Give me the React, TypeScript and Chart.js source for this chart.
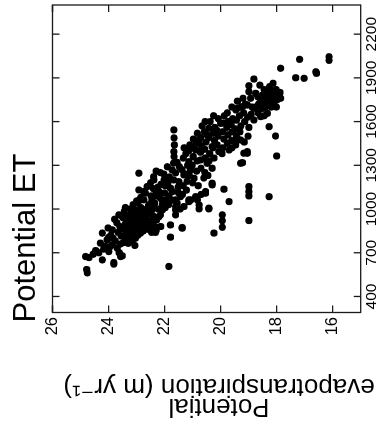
import React, { useEffect, useRef } from "react";
import { Chart, registerables } from "chart.js";

Chart.register(...registerables);

// ---- text & ticks ----
const TITLE = "Potential ET";
const Y_TITLE = ["Potential", "evapotranspiration (m yr\u207B\u00B9)"];
const PET_TICKS = [400, 700, 1000, 1300, 1600, 1900, 2200];
const TEMP_TICKS = [16, 18, 20, 22, 24, 26];
const PET_RANGE = [290, 2400];
const TEMP_RANGE = [15, 26];

// ---- data: [PET, temperature] pairs, grouped by region of the cloud ----
const warmEnd: [number, number][] = [
  [562, 24.76], [585, 24.78], [674, 24.82], [667, 24.7], [715, 24.46], [651, 24.22], [835, 24.22],
  [766, 24.29], [789, 24.05], [754, 23.87], [732, 23.69], [708, 23.99], [633, 23.81], [622, 23.81],
  [679, 23.51], [674, 23.57], [857, 23.87], [960, 23.63], [745, 24.12], [700, 24.35], [805, 24.0],
  [690, 24.55], [725, 24.18], [820, 23.92], [780, 23.76], [740, 23.96], [800, 23.84], [870, 24.02],
  [905, 23.7], [930, 23.78], [880, 23.6], [840, 23.66], [760, 23.58], [815, 23.55], [700, 23.62],
];

const denseCore: [number, number][] = [
  [770, 23.47], [815, 23.43], [860, 23.45], [895, 23.41], [940, 23.48], [985, 23.44],
  [790, 23.36], [830, 23.33], [880, 23.37], [915, 23.34], [955, 23.36],
  [810, 23.26], [845, 23.23], [870, 23.27], [905, 23.24], [935, 23.25], [1000, 23.22],
  [780, 23.16], [825, 23.14], [860, 23.17], [890, 23.13], [925, 23.15], [970, 23.18], [1030, 23.12],
  [750, 23.06], [800, 23.04], [845, 23.07], [880, 23.03], [910, 23.06], [950, 23.05], [990, 23.02],
  [820, 22.96], [870, 22.94], [900, 22.97], [940, 22.93], [975, 22.96], [1040, 22.95],
  [835, 22.86], [880, 22.84], [925, 22.87], [960, 22.83], [1010, 22.85],
  [850, 22.76], [895, 22.74], [930, 22.77], [985, 22.73],
  [870, 22.66], [905, 22.64], [950, 22.67], [1000, 22.63], [1109, 22.68],
  [860, 22.56], [890, 22.54], [920, 22.57], [970, 22.53], [1030, 22.55],
  [840, 22.46], [870, 22.44], [905, 22.47], [1000, 22.43], [1060, 22.45],
  [845, 22.36], [880, 22.34], [930, 22.37], [1040, 22.35], [1090, 22.33],
];

const midBand: [number, number][] = [
  [1246, 22.92], [1131, 22.92], [1063, 22.9], [1221, 22.39], [1180, 22.5], [1154, 22.62], [1120, 22.2],
  [1063, 22.74], [1040, 22.38], [1063, 21.96], [1085, 21.43], [1200, 22.02], [1200, 22.38], [1143, 21.79],
  [1188, 21.49], [1234, 21.31], [1248, 21.61], [1268, 21.73], [994, 22.08], [1030, 22.08], [1063, 22.1],
  [1017, 21.61], [1063, 21.61], [1040, 21.55], [880, 22.14], [948, 22.2], [891, 21.79], [840, 22.32],
  [857, 22.3], [926, 22.28], [960, 22.15], [1000, 22.22], [1080, 22.18], [1150, 22.24], [1010, 21.98],
  [1110, 22.0], [1160, 21.98], [1240, 22.03], [1030, 21.86], [1090, 21.84], [1180, 21.88], [1220, 21.83],
  [1060, 21.7], [1120, 21.72], [1200, 21.68], [1110, 21.5], [1150, 21.52], [1290, 21.47], [1100, 21.36],
  [1160, 21.34], [1270, 21.38], [1350, 21.33], [1130, 21.22], [1190, 21.2], [1300, 21.18], [1380, 21.24],
  [1017, 21.31], [994, 21.61], [1090, 22.48], [1260, 22.3], [1130, 22.33],
];

const column2166: [number, number][] = [
  [1543, 21.67], [1488, 21.66], [1440, 21.65], [1394, 21.67], [1360, 21.66], [1315, 21.68],
];

const band20to21: [number, number][] = [
  [1554, 20.42], [1588, 20.0], [1462, 20.77], [1508, 20.48], [1405, 20.89], [1428, 20.3], [1394, 20.06],
  [1405, 19.7], [1337, 20.71], [1314, 20.48], [1280, 20.3], [1120, 20.54], [1177, 20.3], [1028, 20.77],
  [1006, 20.42], [1063, 21.07], [1109, 20.54], [1085, 20.89], [1051, 21.13], [1166, 20.3], [1300, 21.02],
  [1360, 20.98], [1420, 21.03], [1480, 20.97], [1260, 20.86], [1330, 20.84], [1450, 20.87], [1520, 20.83],
  [1280, 20.7], [1390, 20.72], [1430, 20.68], [1490, 20.71], [1570, 20.66], [1250, 20.56], [1350, 20.55],
  [1410, 20.57], [1460, 20.52], [1530, 20.58], [1330, 20.41], [1380, 20.39], [1490, 20.42], [1600, 20.37],
  [1350, 20.24], [1420, 20.27], [1470, 20.22], [1520, 20.26], [1560, 20.21], [1440, 20.12], [1500, 20.09],
  [1540, 20.14], [1620, 20.08], [1230, 21.12], [1270, 21.08], [1400, 21.14], [1440, 21.1], [1213, 20.6],
  [1230, 20.45], [1211, 20.95], [1268, 21.07], [1325, 21.13],
];

const band19to20: [number, number][] = [
  [1474, 19.29], [1314, 19.29], [1394, 19.05], [1420, 19.92], [1480, 19.88], [1530, 19.93], [1590, 19.9],
  [1640, 19.87], [1450, 19.76], [1510, 19.74], [1560, 19.78], [1600, 19.73], [1660, 19.76], [1470, 19.61],
  [1530, 19.58], [1580, 19.62], [1620, 19.57], [1440, 19.46], [1500, 19.44], [1550, 19.48], [1610, 19.43],
  [1680, 19.46], [1530, 19.31], [1570, 19.28], [1640, 19.33], [1700, 19.27], [1460, 19.16], [1600, 19.14],
  [1660, 19.18], [1720, 19.12], [1500, 19.02], [1560, 18.99], [1630, 19.04], [1702, 19.22], [1691, 19.4],
  [1714, 19.05], [1383, 19.17],
];

const coolBand: [number, number][] = [
  [1892, 18.81], [1863, 18.13], [1846, 18.99], [1805, 18.99], [1794, 18.75], [1794, 17.98], [1760, 17.86],
  [1748, 18.21], [1737, 18.57], [1657, 18.33], [1691, 18.81], [1634, 18.57], [1611, 18.81], [1565, 18.27],
  [1690, 18.51], [1740, 18.49], [1780, 18.52], [1700, 18.4], [1760, 18.42], [1800, 18.38], [1720, 18.29],
  [1775, 18.31], [1700, 18.19], [1790, 18.22], [1810, 18.18], [1730, 18.09], [1770, 18.11], [1700, 18.01],
  [1750, 17.99], [1820, 18.02], [1780, 17.91], [1800, 17.88], [1660, 18.66], [1720, 18.64], [1770, 18.67],
  [1650, 18.91], [1700, 18.88], [1760, 18.93], [1501, 18.04],
];

const coolest: [number, number][] = [
  [2027, 17.18], [2020, 16.13], [2045, 16.13], [1966, 17.86], [1931, 16.58], [1942, 16.6],
  [1901, 17.32], [1897, 17.02],
];

const belowBand: [number, number][] = [
  [1383, 19.05], [1318, 19.22], [1364, 18.0], [1154, 18.99], [1120, 18.99], [1090, 18.99], [1085, 18.27],
  [921, 18.99], [1136, 19.88], [1051, 19.7], [960, 19.94], [920, 19.94], [875, 19.94], [835, 20.24],
  [869, 21.37], [807, 21.79], [606, 21.85], [960, 21.61], [1001, 20.42], [1001, 20.77], [1063, 20.83],
  [1063, 21.13], [1113, 20.54], [873, 21.37],
];

const bandFill: [number, number][] = [
  [950, 23.52], [1010, 23.4], [765, 23.3], [1055, 23.0], [1080, 22.85], [1120, 22.75], [1020, 22.58],
  [955, 22.42], [1140, 22.4], [1170, 22.12], [1250, 22.15], [1050, 21.92], [1290, 21.9], [1320, 21.55],
  [1000, 21.45], [1240, 21.25], [1420, 21.3], [1180, 21.0], [1100, 20.7], [1160, 20.8], [1600, 20.55],
  [1640, 20.25], [1380, 19.95], [1700, 19.6], [1740, 19.4], [1420, 19.6], [1760, 19.2], [1480, 19.4],
  [1850, 18.6], [1820, 18.45], [1640, 18.45], [1840, 18.25], [1700, 18.75],
];

const FONT = '"Liberation Sans", Arial, Helvetica, "DejaVu Sans", sans-serif';

export default function App() {
  const ref = useRef<HTMLCanvasElement | null>(null);

  useEffect(() => {
    if (!ref.current) return;
    const all = [
      ...warmEnd, ...denseCore, ...midBand, ...column2166, ...band20to21,
      ...band19to20, ...coolBand, ...coolest, ...belowBand, ...bandFill,
    ];
    const points = all.map(([pet, t]) => ({ x: pet, y: t }));

    const frame = {
      id: "frame",
      afterDraw(chart: any) {
        const { ctx, chartArea: a, scales } = chart;
        const xs = scales.x;
        const ys = scales.y;
        const tick = 7;
        ctx.save();
        ctx.strokeStyle = "#1a1a1a";
        ctx.lineWidth = 1.3;
        ctx.strokeRect(a.left, a.top, a.right - a.left, a.bottom - a.top);
        ctx.beginPath();
        PET_TICKS.forEach((v) => {
          const p = xs.getPixelForValue(v);
          ctx.moveTo(p, a.bottom);
          ctx.lineTo(p, a.bottom - tick);
          ctx.moveTo(p, a.top);
          ctx.lineTo(p, a.top + tick);
        });
        TEMP_TICKS.forEach((v) => {
          const p = ys.getPixelForValue(v);
          ctx.moveTo(a.left, p);
          ctx.lineTo(a.left + tick, p);
          ctx.moveTo(a.right, p);
          ctx.lineTo(a.right - tick, p);
        });
        ctx.stroke();

        ctx.fillStyle = "#000";
        ctx.font = `31px ${FONT}`;
        ctx.textAlign = "left";
        ctx.textBaseline = "alphabetic";
        ctx.fillText(TITLE, a.left - 10, 35);

        ctx.font = `26px ${FONT}`;
        ctx.textAlign = "center";
        const cy = 219;
        const baselines = [27, 47];
        Y_TITLE.forEach((line, i) => {
          ctx.save();
          ctx.translate(baselines[i], cy);
          ctx.rotate(-Math.PI / 2);
          ctx.fillText(line, 0, 0);
          ctx.restore();
        });
        ctx.restore();
      },
    };

    const chart = new Chart(ref.current, {
      type: "scatter",
      data: {
        datasets: [
          {
            data: points,
            backgroundColor: "#000",
            borderColor: "#000",
            borderWidth: 0,
            pointRadius: 3.6,
            pointHoverRadius: 3.6,
          },
        ],
      },
      options: {
        animation: false,
        responsive: false,
        devicePixelRatio: 1,
        events: [],
        layout: { padding: { left: 0, right: 5, top: 52.5, bottom: 0 } },
        plugins: {
          legend: { display: false },
          tooltip: { enabled: false },
          title: { display: false },
        },
        scales: {
          x: {
            type: "linear",
            min: PET_RANGE[0],
            max: PET_RANGE[1],
            grid: { display: false, drawTicks: false },
            border: { display: false },
            afterBuildTicks: (s: any) => {
              s.ticks = PET_TICKS.map((v) => ({ value: v }));
            },
            afterFit: (s: any) => {
              s.height = 19.3;
            },
            ticks: {
              autoSkip: false,
              maxRotation: 0,
              minRotation: 0,
              padding: 1.5,
              color: "#000",
              font: { family: FONT, size: 15.5 },
              callback: (v: any) => String(v),
            },
          },
          y: {
            type: "linear",
            min: TEMP_RANGE[0],
            max: TEMP_RANGE[1],
            grid: { display: false, drawTicks: false },
            border: { display: false },
            afterBuildTicks: (s: any) => {
              s.ticks = TEMP_TICKS.map((v) => ({ value: v }));
            },
            afterFit: (s: any) => {
              s.width = 113.5;
            },
            ticks: {
              autoSkip: false,
              padding: 4.5,
              color: "#000",
              font: { family: FONT, size: 16.5 },
              callback: (v: any) => String(v),
            },
          },
        },
      },
      plugins: [frame],
    });
    return () => chart.destroy();
  }, []);

  return (
    <div
      style={{
        position: "fixed",
        left: 0,
        top: 0,
        width: 426,
        height: 380,
        background: "#fff",
        transformOrigin: "0 0",
        transform: "translate(0px, 426px) rotate(-90deg)",
      }}
    >
      <canvas ref={ref} width={426} height={380} style={{ display: "block", width: 426, height: 380 }} />
    </div>
  );
}
